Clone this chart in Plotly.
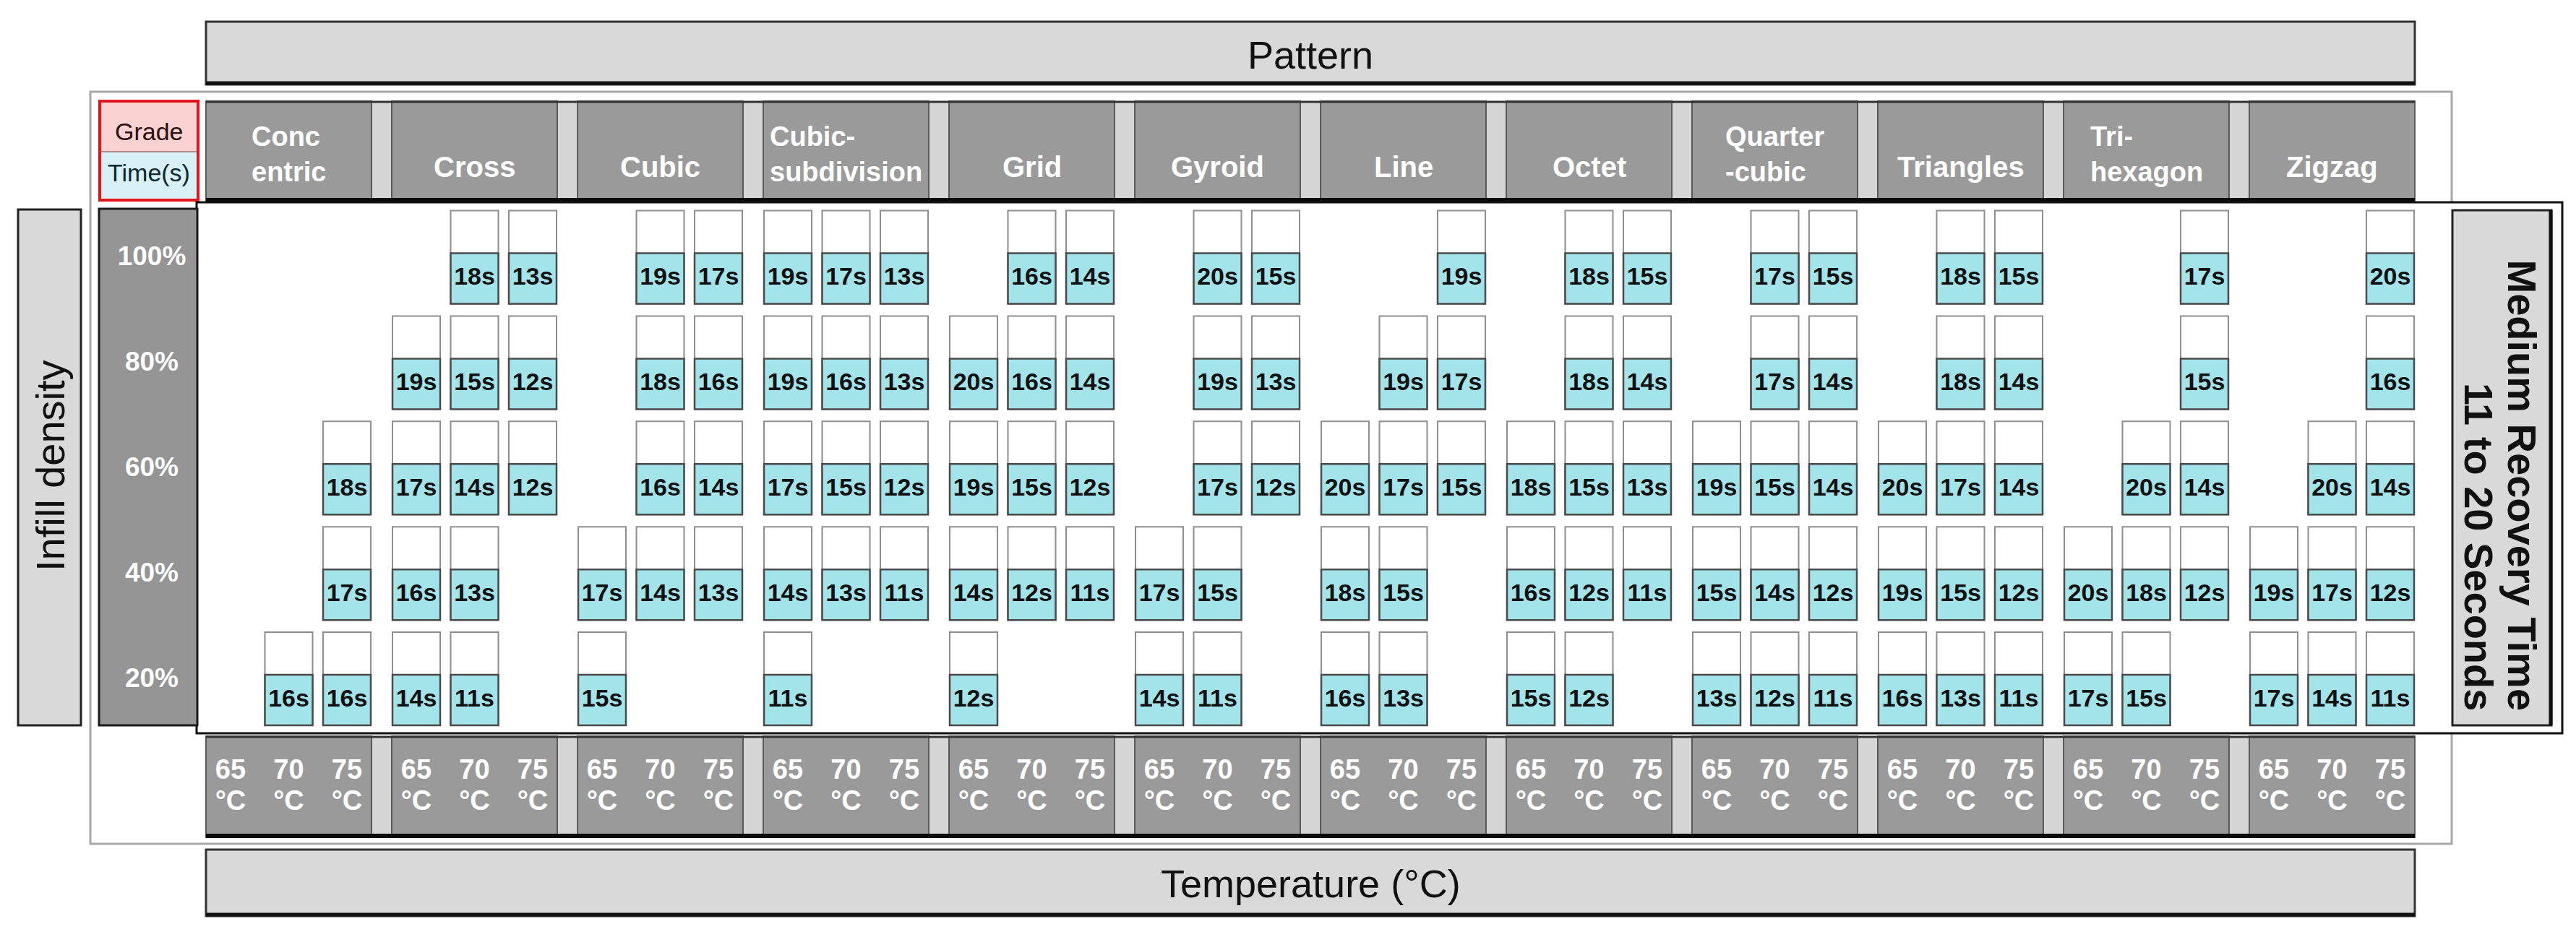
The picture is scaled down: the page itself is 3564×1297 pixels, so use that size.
import plotly.graph_objects as go

# ---------------- data ----------------
PATTERNS = ["Concentric", "Cross", "Cubic", "Cubic-subdivision", "Grid", "Gyroid",
            "Line", "Octet", "Quarter-cubic", "Triangles", "Tri-hexagon", "Zigzag"]
HEADER_LINES = [["Conc", "entric"], ["Cross"], ["Cubic"], ["Cubic-", "subdivision"],
                ["Grid"], ["Gyroid"], ["Line"], ["Octet"], ["Quarter", "-cubic"],
                ["Triangles"], ["Tri-", "hexagon"], ["Zigzag"]]
TEMPERATURES = ["65", "70", "75"]
DENSITIES = ["100%", "80%", "60%", "40%", "20%"]

N = None
# recovery time (s); rows = densities 100..20 %, columns = 65, 70, 75 degC
TIME_CONCENTRIC = [[N, N, N], [N, N, N], [N, N, 18], [N, N, 17], [N, 16, 16]]
TIME_CROSS = [[N, 18, 13], [19, 15, 12], [17, 14, 12], [16, 13, N], [14, 11, N]]
TIME_CUBIC = [[N, 19, 17], [N, 18, 16], [N, 16, 14], [17, 14, 13], [15, N, N]]
TIME_CUBIC_SUB = [[19, 17, 13], [19, 16, 13], [17, 15, 12], [14, 13, 11], [11, N, N]]
TIME_GRID = [[N, 16, 14], [20, 16, 14], [19, 15, 12], [14, 12, 11], [12, N, N]]
TIME_GYROID = [[N, 20, 15], [N, 19, 13], [N, 17, 12], [17, 15, N], [14, 11, N]]
TIME_LINE = [[N, N, 19], [N, 19, 17], [20, 17, 15], [18, 15, N], [16, 13, N]]
TIME_OCTET = [[N, 18, 15], [N, 18, 14], [18, 15, 13], [16, 12, 11], [15, 12, N]]
TIME_QUARTER = [[N, 17, 15], [N, 17, 14], [19, 15, 14], [15, 14, 12], [13, 12, 11]]
TIME_TRIANGLES = [[N, 18, 15], [N, 18, 14], [20, 17, 14], [19, 15, 12], [16, 13, 11]]
TIME_TRIHEX = [[N, N, 17], [N, N, 15], [N, 20, 14], [20, 18, 12], [17, 15, N]]
TIME_ZIGZAG = [[N, N, 20], [N, N, 16], [N, 20, 14], [19, 17, 12], [17, 14, 11]]
RECOVERY = [TIME_CONCENTRIC, TIME_CROSS, TIME_CUBIC, TIME_CUBIC_SUB, TIME_GRID, TIME_GYROID,
            TIME_LINE, TIME_OCTET, TIME_QUARTER, TIME_TRIANGLES, TIME_TRIHEX, TIME_ZIGZAG]

# ---------------- layout geometry ----------------
W, H = 3564, 1297
X0, GP, BOXW = 285, 257.0, 229
X_END = X0 + 11 * GP + BOXW
COL_OFF, COL_STEP = 34, 80.5
CELL_W, CELL_H, FILL_H = 66, 129, 70
ROW0, ROW_STEP = 291.5, 145.9

FONT = "Liberation Sans, Arial, Helvetica, sans-serif"
HEADER_GRAY = "#9a9a9a"
ROWLAB_GRAY = "#959595"
SEP_GRAY = "#d6d6d6"
PANEL_GRAY = "#d9d9d9"
CYAN = "#a3e4eb"


def col_center(g, t):
    return X0 + g * GP + COL_OFF + t * COL_STEP


def row_top(r):
    return ROW0 + r * ROW_STEP


shapes = []


def rect(x0, y0, x1, y1, fill=None, line_color=None, lw=0):
    shapes.append(dict(type="rect", xref="x", yref="y", x0=x0, y0=y0, x1=x1, y1=y1,
                       fillcolor=fill or "rgba(0,0,0,0)",
                       line=dict(color=line_color or "rgba(0,0,0,0)", width=lw),
                       layer="below"))


def hline(x0, x1, y, color, lw):
    shapes.append(dict(type="line", xref="x", yref="y", x0=x0, x1=x1, y0=y, y1=y,
                       line=dict(color=color, width=lw), layer="below"))


def vline(x, y0, y1, color, lw):
    shapes.append(dict(type="line", xref="x", yref="y", x0=x, x1=x, y0=y0, y1=y1,
                       line=dict(color=color, width=lw), layer="below"))


# outer thin frame
rect(125, 127, 3392, 1168, line_color="#a8a8a8", lw=3)

# Pattern banner
rect(X0, 30, X_END, 117, fill=PANEL_GRAY, line_color="#333333", lw=3)
hline(X0, X_END, 115, "#111111", 5)
# Temperature banner
rect(X0, 1176, X_END, 1268, fill=PANEL_GRAY, line_color="#333333", lw=3)
hline(X0, X_END, 1266, "#111111", 5)


def group_bar(y0, y1):
    rect(X0, y0, X_END, y1, fill=SEP_GRAY)
    for g in range(12):
        bx = X0 + g * GP
        rect(bx, y0, bx + BOXW, y1, fill=HEADER_GRAY, line_color="#5a5a5a", lw=2)
    hline(X0, X_END, y0 + 1, "#333333", 3)
    hline(X0, X_END, y1 - 2, "#0a0a0a", 6)


group_bar(140, 279)
group_bar(1019, 1159)

# Grade / Time legend
rect(138, 140, 274, 210, fill="#fbd2d2")
rect(138, 210, 274, 277, fill="#d9f1f6")
hline(140, 272, 210, "#b58a8a", 2)
rect(138, 140, 274, 277, line_color="#e3141c", lw=4)

# main white panel
rect(272, 280, 3545, 1015, fill="white", line_color="#111111", lw=3)

# Infill density panel
rect(25, 290, 112, 1004, fill=PANEL_GRAY, line_color="#222222", lw=3)
# row label box
rect(137, 289, 273, 1004, fill=ROWLAB_GRAY, line_color="#1a1a1a", lw=3)
# right panel
rect(3393, 291, 3530, 1004, fill=PANEL_GRAY, line_color="#222222", lw=3)
vline(3529, 291, 1004, "#111111", 5)

# ---------------- cells ----------------
cx, ctop, cfill_base, tx, ty, tt = [], [], [], [], [], []
for g, table in enumerate(RECOVERY):
    for r, row in enumerate(table):
        for t, v in enumerate(row):
            if v is None:
                continue
            x = col_center(g, t)
            top = row_top(r)
            cx.append(x)
            ctop.append(top)
            cfill_base.append(top + CELL_H - FILL_H)
            tx.append(x)
            ty.append(top + CELL_H - FILL_H / 2)
            tt.append(f"<b>{v}s</b>")

fig = go.Figure()
fig.add_trace(go.Bar(x=cx, y=[CELL_H] * len(cx), base=ctop, width=CELL_W,
                     marker=dict(color="white", line=dict(color="#8e8e8e", width=2)),
                     hoverinfo="skip", showlegend=False))
fig.add_trace(go.Bar(x=cx, y=[FILL_H] * len(cx), base=cfill_base, width=CELL_W,
                     marker=dict(color=CYAN, line=dict(color="#4a4a4a", width=2.5)),
                     hoverinfo="skip", showlegend=False))
fig.add_trace(go.Scatter(x=tx, y=ty, mode="text", text=tt, textposition="middle center",
                         textfont=dict(family=FONT, size=34, color="#111111"),
                         hoverinfo="skip", showlegend=False))

# row labels
row_y = [row_top(r) + CELL_H / 2 + 2 for r in range(len(DENSITIES))]
fig.add_trace(go.Scatter(x=[210] * len(DENSITIES), y=row_y, mode="text",
                         text=[f"<b>{d}</b>" for d in DENSITIES],
                         textfont=dict(family=FONT, size=37, color="white"),
                         hoverinfo="skip", showlegend=False))

# temperature labels
temp_x = [col_center(g, t) for g in range(12) for t in range(3)]
temp_t = [TEMPERATURES[t] for g in range(12) for t in range(3)]
fig.add_trace(go.Scatter(x=temp_x, y=[1068] * len(temp_x), mode="text",
                         text=[f"<b>{s}</b>" for s in temp_t],
                         textfont=dict(family=FONT, size=38, color="white"),
                         hoverinfo="skip", showlegend=False))
fig.add_trace(go.Scatter(x=temp_x, y=[1111] * len(temp_x), mode="text",
                         text=["<b>°C</b>"] * len(temp_x),
                         textfont=dict(family=FONT, size=38, color="white"),
                         hoverinfo="skip", showlegend=False))

# ---------------- annotations ----------------
ann = []


def add_text(x, y, text, size, color="#111111", xanchor="center", yanchor="middle",
             angle=0, align="center"):
    ann.append(dict(x=x, y=y, xref="x", yref="y", text=text, showarrow=False,
                    font=dict(family=FONT, size=size, color=color),
                    xanchor=xanchor, yanchor=yanchor, textangle=angle, align=align))


HFS = 38
for g, lines in enumerate(HEADER_LINES):
    bc = X0 + g * GP + BOXW / 2
    if len(lines) == 1:
        add_text(bc, 231, f"<b>{lines[0]}</b>", 40, color="white")
    else:
        add_text(bc, 213, "<br>".join(f"<b>{s}</b>" for s in lines), HFS,
                 color="white", align="left")

add_text((X0 + X_END) / 2, 76, "Pattern", 54)
add_text((X0 + X_END) / 2, 1223, "Temperature (°C)", 54)
add_text(69, 645, "Infill density", 56, angle=-90)
add_text(3489, 986, "<b>Medium Recovery Time</b>", 56, angle=90, yanchor="bottom")
add_text(3430, 986, "<b>11 to 20 Seconds</b>", 56, angle=90, yanchor="bottom")
add_text(206, 182, "Grade", 34, color="#2b0e0e")
add_text(206, 239, "Time(s)", 34, color="#06282e")

fig.update_layout(
    width=W, height=H, margin=dict(l=0, r=0, t=0, b=0),
    paper_bgcolor="white", plot_bgcolor="white",
    xaxis=dict(range=[0, W], visible=False, fixedrange=True),
    yaxis=dict(range=[H, 0], visible=False, fixedrange=True),
    barmode="overlay", showlegend=False,
    shapes=shapes, annotations=ann,
)

fig.write_html("out.html", config={"displayModeBar": False},
               post_script="document.body.style.margin='0px';document.body.style.overflow='hidden';")
